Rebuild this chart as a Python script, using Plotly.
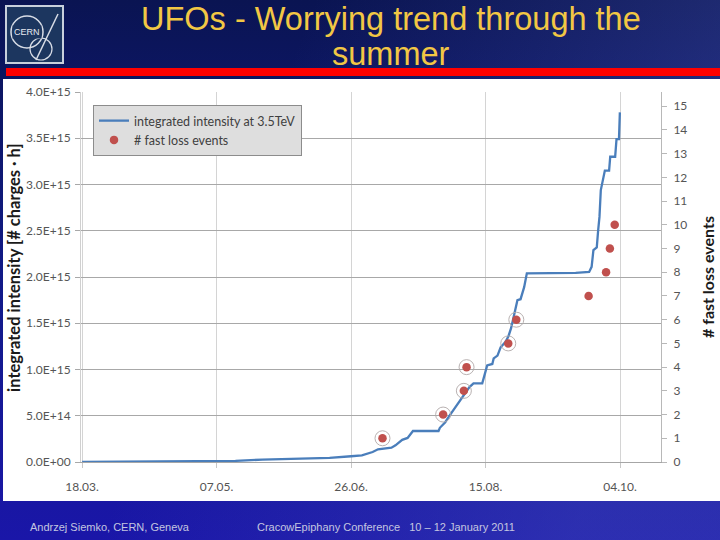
import base64
import plotly.graph_objects as go

# ---------------- data ----------------
# integrated intensity at 3.5 TeV (units of 1e15 charges*h)
line_dates = [
    "2010-03-18", "2010-04-17", "2010-05-03", "2010-05-14", "2010-05-24",
    "2010-06-18", "2010-06-26", "2010-06-30", "2010-07-04", "2010-07-06",
    "2010-07-11", "2010-07-12 12:00", "2010-07-15", "2010-07-17", "2010-07-19",
    "2010-07-28 12:00", "2010-07-29", "2010-07-31", "2010-08-01 08:00", "2010-08-03",
    "2010-08-05", "2010-08-07", "2010-08-09", "2010-08-10 12:00", "2010-08-13 18:00",
    "2010-08-14 10:00", "2010-08-15 14:00", "2010-08-17 12:00", "2010-08-18", "2010-08-19 10:00",
    "2010-08-20 14:00", "2010-08-22 10:00", "2010-08-23 12:00", "2010-08-24 12:00", "2010-08-25 12:00",
    "2010-08-26 20:00", "2010-08-28", "2010-08-29 08:00", "2010-08-30 08:00", "2010-09-17 12:00",
    "2010-09-22 12:00", "2010-09-23 10:00", "2010-09-24 02:00", "2010-09-25 08:00", "2010-09-25 20:00",
    "2010-09-26 08:00", "2010-09-26 20:00", "2010-09-27 10:00", "2010-09-28 08:00", "2010-09-29 22:00",
    "2010-09-30 08:00", "2010-10-02 04:00", "2010-10-02 16:00", "2010-10-03 14:00", "2010-10-03 22:00",
]
line_values_e15 = [
    0.0, 0.003, 0.008, 0.012, 0.026,
    0.045, 0.062, 0.072, 0.108, 0.137,
    0.155, 0.18, 0.24, 0.26, 0.335,
    0.335, 0.37, 0.43, 0.49, 0.56,
    0.65, 0.74, 0.81, 0.85, 0.85,
    0.92, 1.045, 1.06, 1.12, 1.15,
    1.24, 1.30, 1.36, 1.45, 1.57,
    1.75, 1.76, 1.89, 2.04, 2.045,
    2.055, 2.11, 2.29, 2.32, 2.50,
    2.65, 2.94, 3.01, 3.15, 3.15,
    3.30, 3.30, 3.49, 3.49, 3.78,
]

# fast loss events (cumulative count)
event_dates = [
    "2010-07-07 16:00", "2010-07-30 05:00", "2010-08-06 22:00", "2010-08-07 22:00",
    "2010-08-23 10:00", "2010-08-26 10:00", "2010-09-22 07:00", "2010-09-28 19:00",
    "2010-09-30 05:00", "2010-10-02",
]
event_counts = [1, 2, 3, 4, 5, 6, 7, 8, 9, 10]
ringed_count = 6  # first events highlighted with a ring

x_tick_dates = ["2010-03-18", "2010-05-07", "2010-06-26", "2010-08-15", "2010-10-04"]
x_tick_text = ["18.03.", "07.05.", "26.06.", "15.08.", "04.10."]
y_tick_vals_e15 = [0, 0.5, 1.0, 1.5, 2.0, 2.5, 3.0, 3.5, 4.0]
y_tick_text = ["0.0E+00", "5.0E+14", "1.0E+15", "1.5E+15", "2.0E+15",
               "2.5E+15", "3.0E+15", "3.5E+15", "4.0E+15"]
y2_tick_vals = list(range(0, 16))

title_line1 = "UFOs - Worrying trend through the"
title_line2 = "summer"
footer_left = "Andrzej Siemko, CERN, Geneva"
footer_right = "CracowEpiphany Conference\u00a0\u00a0\u00a010 \u2013 12 January 2011"

# ---------------- layout geometry ----------------
W, H = 720, 540
L, R, T, B = 81, 59, 92, 78
PW, PH = W - L - R, H - T - B


def px(x):
    return (x - L) / PW


def py(y):
    return (H - B - y) / PH


FONT = "Lato, Liberation Sans, Arial, sans-serif"
BLUE = "#4A7EBB"
RED = "#C0504D"

fig = go.Figure()
fig.add_trace(go.Scatter(
    x=line_dates, y=[v * 1e15 for v in line_values_e15],
    mode="lines", name="integrated intensity at 3.5TeV",
    line=dict(color=BLUE, width=2.3), yaxis="y",
))
fig.add_trace(go.Scatter(
    x=event_dates[:ringed_count], y=event_counts[:ringed_count],
    mode="markers", showlegend=False, yaxis="y2", hoverinfo="skip",
    marker=dict(symbol="circle-open", size=15, color="#b0a8a8",
                line=dict(width=0.9, color="#b0a8a8")),
))
fig.add_trace(go.Scatter(
    x=event_dates, y=event_counts, mode="markers",
    name="# fast loss events", yaxis="y2",
    marker=dict(color=RED, size=8.5),
))

# background gradient of the slide
svg = (
    '<svg xmlns="http://www.w3.org/2000/svg" width="720" height="540">'
    '<defs><linearGradient id="g" x1="0" y1="0" x2="0" y2="1">'
    '<stop offset="0" stop-color="#0a1452"/><stop offset="0.5" stop-color="#111a86"/>'
    '<stop offset="1" stop-color="#1a16a8"/></linearGradient>'
    '<linearGradient id="h" x1="0" y1="0" x2="1" y2="0.3">'
    '<stop offset="0.4" stop-color="#5060c0" stop-opacity="0"/>'
    '<stop offset="1" stop-color="#5868c8" stop-opacity="0.3"/></linearGradient></defs>'
    '<rect width="720" height="540" fill="url(#g)"/>'
    '<rect width="720" height="540" fill="url(#h)"/></svg>'
)
src = "data:image/svg+xml;base64," + base64.b64encode(svg.encode()).decode()

shapes = [
    # red bar under the title
    dict(type="rect", xref="paper", yref="paper", x0=px(6), x1=px(720), y0=py(68), y1=py(76),
         fillcolor="#ff0000", line=dict(width=0), layer="below"),
    # white chart panel
    dict(type="rect", xref="paper", yref="paper", x0=px(3), x1=px(720), y0=py(79), y1=py(501),
         fillcolor="white", line=dict(width=0), layer="below"),
    # CERN logo
    dict(type="rect", xref="paper", yref="paper", x0=px(6), x1=px(63), y0=py(6), y1=py(63),
         fillcolor="#1c365f", line=dict(width=2, color="#c8d0dc"), layer="above"),
    dict(type="circle", xref="paper", yref="paper", x0=px(11), x1=px(43), y0=py(16), y1=py(48),
         line=dict(width=1.5, color="#d8dde6"), layer="above"),
    dict(type="line", xref="paper", yref="paper", x0=px(36), x1=px(58), y0=py(60), y1=py(14),
         line=dict(width=1.5, color="#d8dde6"), layer="above"),
    dict(type="circle", xref="paper", yref="paper", x0=px(30), x1=px(52), y0=py(38), y1=py(60),
         line=dict(width=1.2, color="#d8dde6"), layer="above"),
]

annotations = [
    dict(text=title_line1, x=px(391), y=py(19), xref="paper", yref="paper",
         showarrow=False, xanchor="center", yanchor="middle", borderpad=0,
         font=dict(family="Liberation Sans, Arial", size=32.5, color="#F2C744")),
    dict(text=title_line2, x=px(391), y=py(54), xref="paper", yref="paper",
         showarrow=False, xanchor="center", yanchor="middle", borderpad=0,
         font=dict(family="Liberation Sans, Arial", size=32.5, color="#F2C744")),
    dict(text="CERN", x=px(27), y=py(32), xref="paper", yref="paper", showarrow=False,
         xanchor="center", yanchor="middle", bgcolor="#1c365f",
         font=dict(family="Liberation Sans, Arial", size=9, color="#e6e9ef")),
    dict(text=footer_left, x=px(110), y=py(527), xref="paper", yref="paper", showarrow=False,
         xanchor="center", yanchor="middle",
         font=dict(family="Liberation Sans, Arial", size=11, color="#c4c6e0")),
    dict(text=footer_right, x=px(386), y=py(527), xref="paper", yref="paper", showarrow=False,
         xanchor="center", yanchor="middle",
         font=dict(family="Liberation Sans, Arial", size=11, color="#c4c6e0")),
    dict(text="<b>integrated intensity [# charges \u00b7 h]</b>", x=px(14), y=py(268),
         xref="paper", yref="paper", showarrow=False, textangle=-90,
         xanchor="center", yanchor="middle",
         font=dict(family=FONT, size=16.5, color="#1a1a1a")),
    dict(text="<b># fast loss events</b>", x=px(707), y=py(277),
         xref="paper", yref="paper", showarrow=False, textangle=-90,
         xanchor="center", yanchor="middle",
         font=dict(family=FONT, size=16, color="#1a1a1a")),
]

tick_font = dict(family=FONT, size=12, color="#555555")

fig.update_layout(
    width=W, height=H,
    margin=dict(l=L, r=R, t=T, b=B, pad=0),
    paper_bgcolor="#111a86", plot_bgcolor="white",
    images=[dict(source=src, xref="paper", yref="paper", x=px(0), y=py(0),
                 sizex=W / PW, sizey=H / PH, sizing="stretch",
                 xanchor="left", yanchor="top", layer="below")],
    shapes=shapes, annotations=annotations,
    showlegend=True,
    legend=dict(x=px(93), y=py(105), xanchor="left", yanchor="top",
                bgcolor="#dedede", bordercolor="#8c8c8c", borderwidth=1,
                font=dict(family=FONT, size=12.5, color="#404040"),
                tracegroupgap=0, itemwidth=30),
    xaxis=dict(
        type="date", range=["2010-03-17 14:00", "2010-10-19 05:00"],
        tickvals=x_tick_dates, ticktext=x_tick_text, tickfont=tick_font,
        showgrid=True, gridcolor="#d4d4d4", gridwidth=1,
        showline=True, linecolor="#a6a6a6", linewidth=1,
        ticks="outside", ticklen=5, tickcolor="#c8c8c8",
        ticklabelstandoff=9, zeroline=False,
    ),
    yaxis=dict(
        range=[0, 4e15], tickvals=[v * 1e15 for v in y_tick_vals_e15], ticktext=y_tick_text,
        tickfont=tick_font, showgrid=True, gridcolor="#a8a8a8", gridwidth=1,
        showline=True, linecolor="#d0d0d0", ticks="outside", ticklen=5, tickcolor="#a8a8a8",
        zeroline=False, ticklabelstandoff=2,
    ),
    yaxis2=dict(
        range=[0, 15.6], overlaying="y", side="right", tickvals=y2_tick_vals,
        tickfont=tick_font, showgrid=False, showline=True, linecolor="#b8b8b8",
        ticks="outside", ticklen=5, tickcolor="#b8b8b8", zeroline=False,
        ticklabelstandoff=4,
    ),
)

fig.write_html("out.html")
